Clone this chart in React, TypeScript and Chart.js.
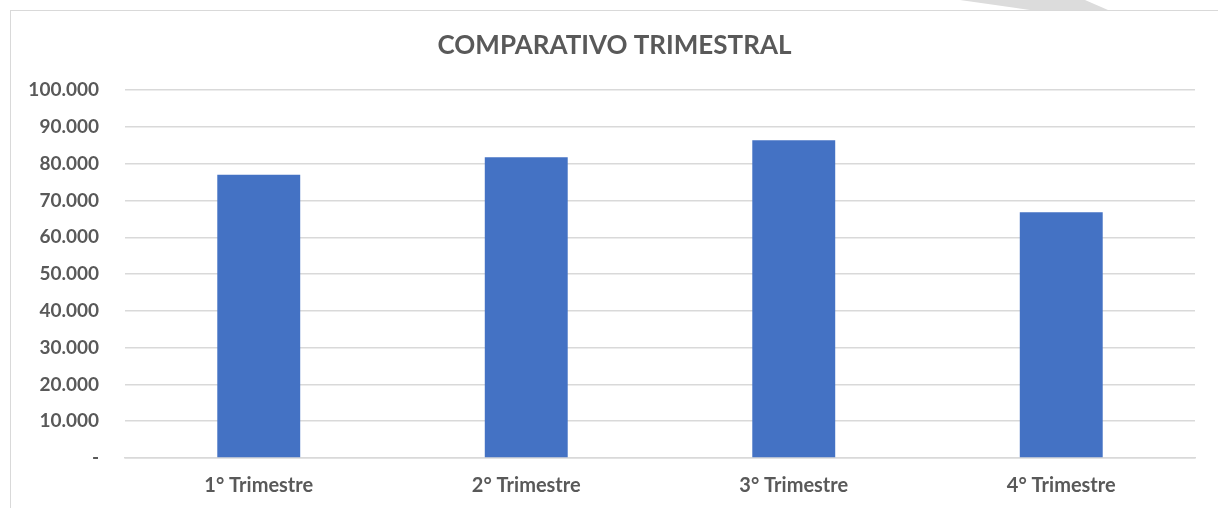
import React, { useEffect, useRef } from "react";
import { Chart, registerables } from "chart.js";

Chart.register(...registerables);

const categories = ["1° Trimestre", "2° Trimestre", "3° Trimestre", "4° Trimestre"];
const values = [77000, 81750, 86400, 66800];
const yMax = 100000;
const yStep = 10000;
const titleText = "COMPARATIVO TRIMESTRAL";

const fmt = (v: number) => (v === 0 ? "-" : v.toLocaleString("de-DE"));

export default function App() {
  const ref = useRef<HTMLCanvasElement | null>(null);
  useEffect(() => {
    if (!ref.current) return;
    const chart = new Chart(ref.current, {
      type: "bar",
      data: {
        labels: categories,
        datasets: [
          {
            data: values,
            backgroundColor: "#4472C4",
            categoryPercentage: 1,
            barPercentage: 0.31,
          },
        ],
      },
      options: {
        animation: false,
        responsive: false,
        maintainAspectRatio: false,
        layout: { padding: { left: 0, right: 0, top: 0, bottom: 10 } },
        plugins: {
          legend: { display: false },
          tooltip: { enabled: false },
          title: {
            display: true,
            text: titleText,
            color: "#595959",
            font: { family: "Lato", size: 26, weight: "bold" },
            padding: { top: 19, bottom: 29 },
          },
        },
        scales: {
          x: {
            afterFit: (s: any) => {
              s.height = 40;
            },
            grid: { display: false, drawTicks: false },
            border: { display: true, color: "#d9d9d9", width: 1.5 },
            ticks: {
              color: "#595959",
              font: { family: "Lato", size: 20, weight: "bold" },
              padding: 16,
            },
          },
          y: {
            min: 0,
            max: yMax,
            afterFit: (s: any) => {
              s.width = 114;
            },
            grid: { color: "#d9d9d9", lineWidth: 1.5, drawTicks: false },
            border: { display: false },
            ticks: {
              stepSize: yStep,
              color: "#595959",
              padding: 26,
              font: { family: "Lato", size: 19, weight: "bold" },
              callback: (v: any) => fmt(Number(v)),
            },
          },
          yRight: {
            type: "linear",
            position: "right",
            min: 0,
            max: yMax,
            afterFit: (s: any) => {
              s.width = 23;
            },
            grid: { display: false, drawTicks: false },
            border: { display: false },
            ticks: { display: false },
          },
        },
      },
    });
    return () => chart.destroy();
  }, []);
  return (
    <div style={{ position: "fixed", left: 0, top: 0, width: 1218, height: 508, background: "#fff", overflow: "hidden" }}>
      <div
        style={{
          position: "absolute",
          left: 0,
          top: 0,
          width: 1218,
          height: 10,
          background: "#dcdcdc",
          clipPath: "polygon(960px 0px, 1085px 0px, 1108px 10px, 1030px 10px)",
        }}
      />
      <div
        style={{
          position: "absolute",
          left: 10,
          top: 10,
          width: 1210,
          height: 510,
          border: "1px solid #d9d9d9",
          boxSizing: "border-box",
          background: "#fff",
        }}
      >
        <canvas ref={ref} width={1207} height={497} style={{ display: "block" }} />
      </div>
    </div>
  );
}
